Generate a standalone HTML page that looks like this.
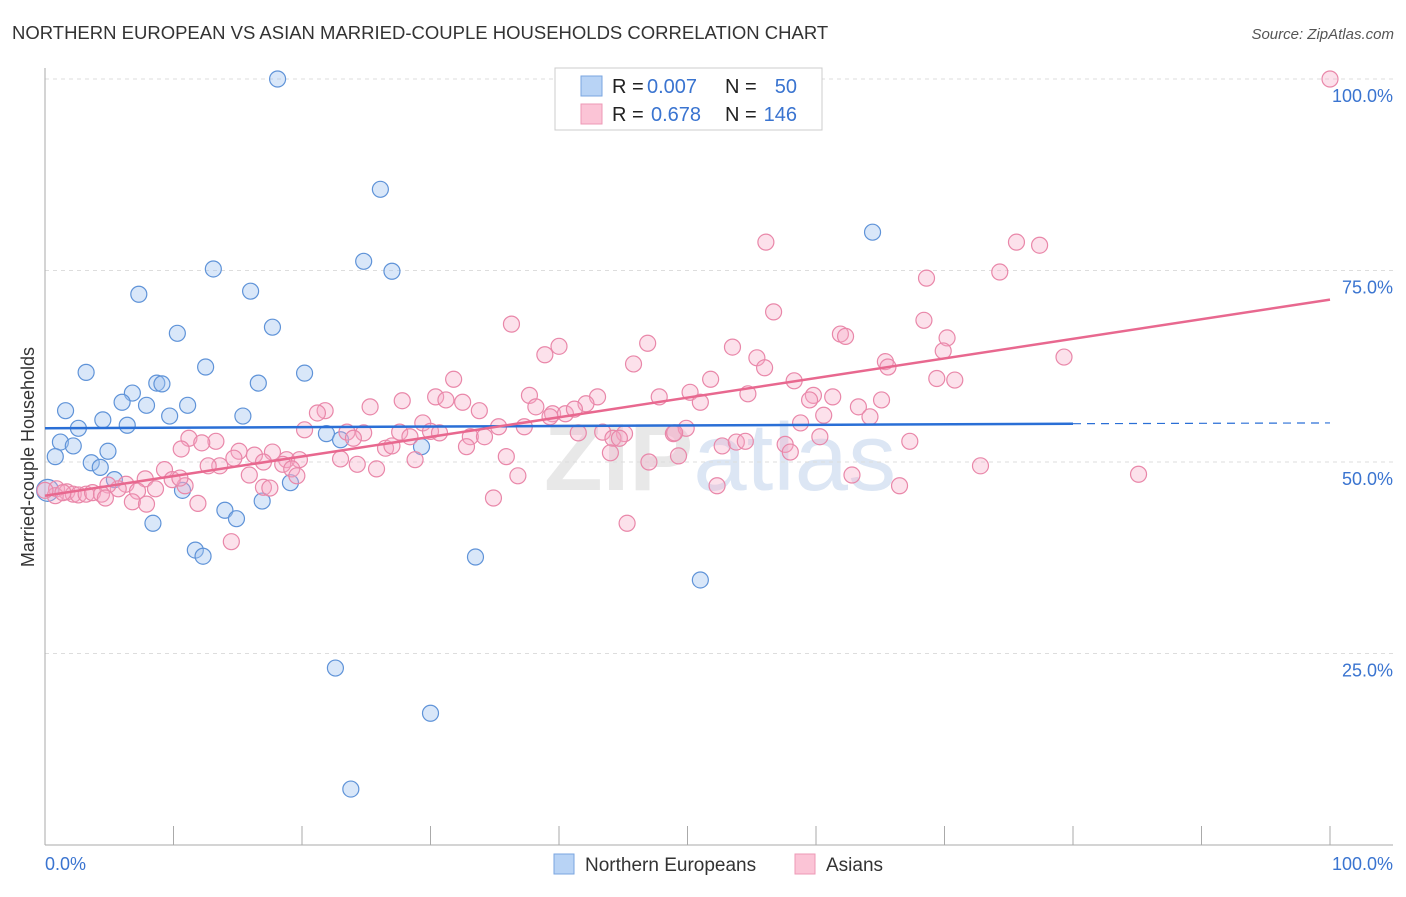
<!DOCTYPE html>
<html><head><meta charset="utf-8"><style>
body{margin:0;background:#fff;font-family:"Liberation Sans",sans-serif;}
svg text{font-family:"Liberation Sans",sans-serif;}
</style></head><body>
<svg id="chart" width="1406" height="892" viewBox="0 0 1406 892">
<text x="12" y="39" font-size="18.5" fill="#333">NORTHERN EUROPEAN VS ASIAN MARRIED-COUPLE HOUSEHOLDS CORRELATION CHART</text>
<text x="1394" y="39" font-size="15" fill="#555" font-style="italic" text-anchor="end">Source: ZipAtlas.com</text>
<text x="720" y="490" font-size="96" fill="#e8e8e8" text-anchor="middle" font-weight="bold">ZIP<tspan fill="#dce6f4" font-weight="normal">atlas</tspan></text>
<g id="grid"></g>
<g id="axes"></g>
<g id="pts"></g>
<g id="lines"></g>
<text transform="translate(34,457) rotate(-90)" font-size="18" fill="#333" text-anchor="middle">Married-couple Households</text>
<g>
<rect x="555" y="68" width="267" height="62" fill="#fff" stroke="#ccc"/>
<rect x="581" y="76" width="21" height="20" fill="#b8d3f5" stroke="#7aa6e0"/>
<rect x="581" y="104" width="21" height="20" fill="#fbc4d6" stroke="#ee98b6"/>
<text x="612" y="93" font-size="20" fill="#222">R =</text>
<text x="647" y="93" font-size="20" fill="#3a74d0">0.007</text>
<text x="725" y="93" font-size="20" fill="#222">N =</text>
<text x="797" y="93" font-size="20" fill="#3a74d0" text-anchor="end">50</text>
<text x="612" y="121" font-size="20" fill="#222">R =</text>
<text x="651" y="121" font-size="20" fill="#3a74d0">0.678</text>
<text x="725" y="121" font-size="20" fill="#222">N =</text>
<text x="797" y="121" font-size="20" fill="#3a74d0" text-anchor="end">146</text>
</g>
<g>
<rect x="554" y="854" width="20" height="20" fill="#b8d3f5" stroke="#7aa6e0"/>
<text x="585" y="871" font-size="19" fill="#333">Northern Europeans</text>
<rect x="795" y="854" width="20" height="20" fill="#fbc4d6" stroke="#ee98b6"/>
<text x="826" y="871" font-size="19" fill="#333">Asians</text>
</g>
</svg>
<script>
const blueX=[18.1,26.1,64.4,13.1,24.8,27.0,7.3,16.0,10.3,17.7,12.5,3.2,20.2,16.6,8.7,9.1,6.8,6.0,7.9,11.1,1.6,4.5,9.7,15.4,6.4,2.6,21.9,23.0,1.2,2.2,0.8,3.6,4.9,5.4,10.7,19.1,29.3,16.9,14.0,14.9,8.4,11.7,12.3,33.5,51.0,22.6,30.0,23.8,0.2,4.3];
const blueY=[100,85.6,80.0,75.2,76.2,74.9,71.9,72.3,66.8,67.6,62.4,61.7,61.6,60.3,60.3,60.2,59.0,57.8,57.4,57.4,56.7,55.5,56.0,56.0,54.8,54.4,53.7,52.9,52.6,52.1,50.7,49.9,51.4,47.7,46.3,47.3,52.0,44.9,43.7,42.6,42.0,38.5,37.7,37.6,34.6,23.1,17.2,7.3,46.3,49.3];
const pinkX=[100,56.1,75.6,77.4,74.3,68.6,56.7,68.4,36.3,61.9,62.3,70.2,40.0,46.9,53.5,69.9,38.9,79.3,45.8,55.4,65.4,65.6,56.0,31.8,69.4,70.8,51.8,58.3,37.7,47.8,50.2,54.7,59.8,65.1,30.4,31.2,32.5,43.0,59.5,61.3,27.8,25.3,33.8,38.2,42.1,39.5,40.5,41.2,21.8,21.2,51.0,63.3,60.6,64.2,29.4,39.3,35.3,37.3,20.2,23.5,24.8,27.6,30.0,30.7,28.4,24.0,33.1,34.2,41.5,43.4,45.1,48.9,49.9,58.8,44.2,44.7,49.0,11.2,13.3,12.2,15.1,16.3,17.7,18.8,19.8,23.0,26.5,27.0,32.8,44.0,47.0,49.3,52.7,53.8,54.5,57.6,58.0,60.3,67.3,10.6,13.6,12.7,14.7,17.0,18.5,19.2,19.6,24.3,25.8,28.8,35.9,36.8,10.9,9.3,9.9,10.5,7.8,6.3,5.7,4.9,15.9,17.0,17.5,8.6,7.2,0.9,1.7,2.2,2.6,3.2,3.7,4.4,0.8,1.4,4.7,6.8,7.9,11.9,14.5,34.9,45.3,52.3,62.8,66.5,72.8,85.1,0];
const pinkY=[100,78.7,78.7,78.3,74.8,74.0,69.6,68.5,68.0,66.7,66.4,66.2,65.1,65.5,65.0,64.5,64.0,63.7,62.8,63.6,63.1,62.4,62.3,60.8,60.9,60.7,60.8,60.6,58.7,58.5,59.1,58.9,58.7,58.1,58.5,58.1,57.8,58.5,58.1,58.5,58.0,57.2,56.7,57.2,57.6,56.3,56.3,56.9,56.7,56.4,57.8,57.2,56.1,55.9,55.1,55.9,54.6,54.6,54.2,53.9,53.8,53.9,54.0,53.8,53.3,53.1,53.3,53.3,53.8,53.9,53.7,53.7,54.4,55.1,53.1,53.1,53.8,53.1,52.7,52.5,51.4,50.9,51.3,50.3,50.3,50.4,51.8,52.1,52.0,51.2,50.0,50.8,52.1,52.6,52.7,52.3,51.3,53.3,52.7,51.7,49.5,49.5,50.5,50.0,49.7,49.1,48.2,49.7,49.1,50.3,50.7,48.2,46.9,49.0,47.7,47.9,47.8,47.1,46.5,47.0,48.3,46.7,46.6,46.5,46.2,46.5,46.1,45.8,45.7,45.8,46.0,45.8,45.6,46.0,45.3,44.8,44.5,44.6,39.6,45.3,42.0,46.9,48.3,46.9,49.5,48.4,46.3];
const yTicks=[25,50,75,100];
const yTickLabels=["25.0%","50.0%","75.0%","100.0%"];
const xTicks=[0,10,20,30,40,50,60,70,80,90,100];
const blueTrend=[54.4,55.0,55.1];
const pinkTrend=[45.6,71.2];
const NS='http://www.w3.org/2000/svg';
const X=v=>45+v*12.85, Y=v=>845-v*7.66;
function mk(tag,attrs,parent){const e=document.createElementNS(NS,tag);for(const k in attrs)e.setAttribute(k,attrs[k]);document.getElementById(parent).appendChild(e);return e;}
yTicks.forEach((t,i)=>{
 const g=mk('line',{x1:45,x2:1393,y1:Y(t),y2:Y(t),stroke:'#ddd','stroke-dasharray':'4,4'},'grid');
 
 
 const tx=mk('text',{x:1393,y:Y(t)+23,'font-size':18,fill:'#3a74d0','text-anchor':'end'},'axes');
 tx.textContent=yTickLabels[i];
 
 
});
const ax=mk('line',{x1:45,x2:45,y1:68,y2:845,stroke:'#aaa'},'axes');


const bx=mk('line',{x1:45,x2:1393,y1:845,y2:845,stroke:'#aaa'},'axes');


xTicks.forEach(t=>{
 const l=mk('line',{x1:X(t),x2:X(t),y1:826,y2:845,stroke:'#aaa'},'axes');
 
 
});
const xl0=mk('text',{x:45,y:870,'font-size':18,fill:'#3a74d0'},'axes');xl0.textContent='0.0%';


const xl1=mk('text',{x:1393,y:870,'font-size':18,fill:'#3a74d0','text-anchor':'end'},'axes');xl1.textContent='100.0%';


blueX.forEach((v,i)=>{
 const c=mk('circle',{cx:X(v),cy:Y(blueY[i]),r:i==48?11:8,fill:'rgba(160,196,240,0.4)',stroke:'#5f93d8','stroke-width':1.2},'pts');
 
 
});
pinkX.forEach((v,i)=>{
 const c=mk('circle',{cx:X(v),cy:Y(pinkY[i]),r:8,fill:'rgba(246,170,198,0.35)',stroke:'#e987a9','stroke-width':1.2},'pts');
 
 
});
const b1=mk('line',{x1:X(0),y1:Y(blueTrend[0]),x2:X(80),y2:Y(blueTrend[1]),stroke:'#2a6fd6','stroke-width':2.5},'lines');


const b2=mk('line',{x1:X(80),y1:Y(blueTrend[1]),x2:X(100),y2:Y(blueTrend[2]),stroke:'#2a6fd6','stroke-width':1.2,'stroke-dasharray':'8,6'},'lines');


const p1=mk('line',{x1:X(0),y1:Y(pinkTrend[0]),x2:X(100),y2:Y(pinkTrend[1]),stroke:'#e8688f','stroke-width':2.5},'lines');


</script>
</body></html>
